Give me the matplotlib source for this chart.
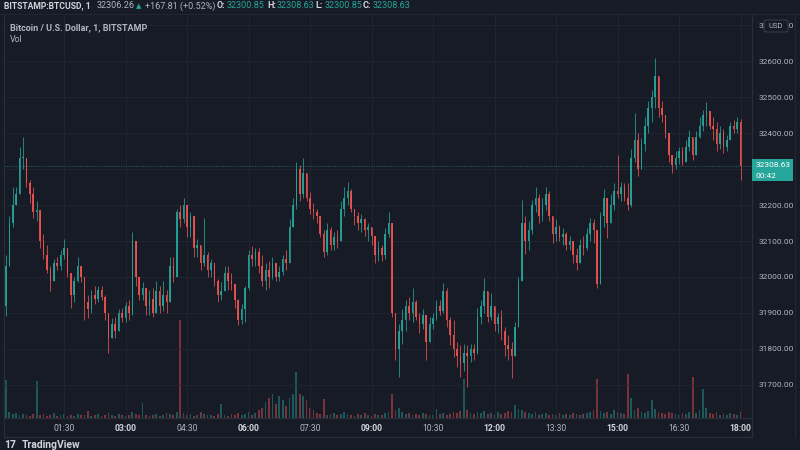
import numpy as np
import matplotlib
matplotlib.use('Agg')
import matplotlib.pyplot as plt
from matplotlib.patches import Rectangle, FancyBboxPatch
from matplotlib.lines import Line2D

plt.rcParams['font.family'] = ['Roboto', 'DejaVu Sans']

# 5-minute candles from 00:05 to 18:00 (minutes after midnight = 5 + 5*i)
first_open = 31920
closes = [32030, 32150, 32200, 32230, 32330, 32330, 32260, 32230, 32180, 32185,
          32100, 32060, 32020, 31990, 32040, 32030, 32060, 32080, 32010, 31950,
          31990, 32030, 32000, 31930, 31910, 31950, 31940, 31965, 31945, 31900,
          31830, 31870, 31850, 31900, 31885, 31920, 31900, 32100, 32000, 31950,
          31970, 31920, 31940, 31900, 31960, 31920, 31950, 31930, 32030, 32000,
          32180, 32160, 32200, 32140, 32170, 32080, 32090, 32040, 32060, 32020,
          32040, 31990, 31950, 31960, 32010, 31990, 31980, 31935, 31880, 31910,
          31970, 32060, 32050, 32070, 32030, 31990, 32020, 32000, 32040, 32000,
          32015, 32050, 32040, 32140, 32200, 32300, 32230, 32290, 32220, 32190,
          32180, 32170, 32120, 32070, 32130, 32090, 32110, 32100, 32190, 32220,
          32240, 32190, 32170, 32150, 32160, 32130, 32140, 32115, 32060, 32080,
          32060, 32120, 32150, 31900, 31800, 31850, 31880, 31920, 31900, 31930,
          31890, 31870, 31895, 31820, 31870, 31885, 31920, 31905, 31960, 31880,
          31840, 31800, 31780, 31760, 31790, 31780, 31800, 31790, 31890, 31920,
          31960, 31890, 31920, 31870, 31890, 31850, 31810, 31800, 31780, 31860,
          31990, 32150, 32100, 32130, 32200, 32220, 32170, 32200, 32230, 32170,
          32120, 32140, 32110, 32120, 32090, 32100, 32060, 32040, 32090, 32080,
          32120, 32150, 32130, 31980, 32170, 32220, 32150, 32200, 32240, 32230,
          32250, 32220, 32200, 32330, 32380, 32300, 32370, 32420, 32470, 32500,
          32560, 32470, 32450, 32400, 32340, 32310, 32330, 32350, 32320, 32360,
          32390, 32340, 32390, 32420, 32450, 32460, 32420, 32410, 32370, 32400,
          32360, 32380, 32420, 32410, 32430, 32308.63]
highs = [32060, 32170, 32250, 32250, 32360, 32390, 32320, 32270, 32250, 32210,
         32170, 32120, 32090, 32030, 32050, 32055, 32075, 32105, 32080, 32010,
         32000, 32055, 32030, 32000, 31950, 31965, 31975, 31975, 31975, 31950,
         31900, 31885, 31890, 31910, 31915, 31930, 31935, 32125, 32100, 31990,
         31985, 31970, 31965, 31970, 31990, 31975, 31990, 31965, 32055, 32055,
         32190, 32200, 32220, 32200, 32180, 32170, 32105, 32090, 32165, 32070,
         32050, 32040, 31995, 31985, 32030, 32030, 32010, 31980, 31940, 31925,
         31975, 32075, 32085, 32080, 32080, 32060, 32040, 32045, 32055, 32040,
         32030, 32060, 32075, 32160, 32220, 32320, 32310, 32330, 32290, 32235,
         32205, 32190, 32165, 32130, 32150, 32140, 32125, 32130, 32210, 32250,
         32265, 32245, 32190, 32180, 32175, 32165, 32150, 32135, 32110, 32100,
         32090, 32135, 32180, 32150, 31880, 31870, 31910, 31935, 31945, 31970,
         31935, 31900, 31910, 31880, 31890, 31900, 31935, 31935, 31983, 31970,
         31890, 31880, 31820, 31810, 31815, 31810, 31815, 31815, 31915, 31935,
         31997, 31960, 31955, 31920, 31900, 31908, 31860, 31840, 31820, 31875,
         32000, 32214, 32170, 32155, 32215, 32250, 32230, 32220, 32250, 32240,
         32170, 32160, 32145, 32135, 32125, 32115, 32100, 32080, 32105, 32115,
         32135, 32165, 32160, 32120, 32180, 32245, 32220, 32230, 32260, 32340,
         32265, 32260, 32260, 32355, 32455, 32400, 32385, 32445, 32490, 32520,
         32608, 32550, 32490, 32445, 32400, 32340, 32350, 32360, 32360, 32380,
         32408, 32390, 32405, 32445, 32465, 32486, 32460, 32445, 32430, 32420,
         32410, 32395, 32430, 32436, 32445, 32440]
lows = [31892, 32100, 32140, 32200, 32250, 32300, 32250, 32205, 32165, 32155,
        32080, 32050, 32010, 31960, 31990, 32020, 32020, 32050, 32000, 31915,
        31930, 31985, 31985, 31880, 31885, 31900, 31925, 31930, 31935, 31880,
        31790, 31830, 31830, 31850, 31875, 31875, 31880, 31895, 31975, 31935,
        31935, 31895, 31895, 31890, 31900, 31900, 31905, 31900, 31930, 31985,
        32000, 32140, 32150, 32110, 32110, 32055, 32055, 32020, 32030, 32000,
        32000, 31975, 31930, 31935, 31960, 31965, 31965, 31915, 31867, 31870,
        31875, 31965, 32030, 32030, 32010, 31975, 31965, 31970, 31995, 31990,
        31990, 32005, 32020, 32040, 32140, 32190, 32210, 32220, 32210, 32175,
        32160, 32150, 32110, 32055, 32060, 32075, 32075, 32080, 32100, 32170,
        32200, 32180, 32145, 32130, 32125, 32115, 32100, 32090, 32040, 32045,
        32045, 32050, 32110, 31890, 31770, 31722, 31815, 31850, 31880, 31875,
        31880, 31845, 31855, 31770, 31830, 31855, 31880, 31895, 31900, 31860,
        31810, 31778, 31750, 31722, 31740, 31695, 31765, 31770, 31785, 31870,
        31900, 31875, 31880, 31850, 31845, 31825, 31780, 31770, 31720, 31780,
        31860, 31990, 32065, 32075, 32120, 32180, 32150, 32155, 32185, 32155,
        32095, 32100, 32100, 32090, 32075, 32075, 32040, 32020, 32040, 32060,
        32075, 32100, 32095, 31970, 31990, 32140, 32108, 32150, 32185, 32220,
        32210, 32210, 32185, 32195, 32320, 32280, 32300, 32350, 32400, 32430,
        32470, 32445, 32430, 32385, 32320, 32288, 32300, 32315, 32310, 32320,
        32350, 32325, 32340, 32385, 32405, 32420, 32410, 32380, 32350, 32355,
        32345, 32350, 32385, 32400, 32400, 32270]
volumes = [38, 6, 4, 5, 3, 4, 3, 2, 4, 37,
           3, 4, 2, 3, 5, 2, 3, 4, 2, 3,
           2, 4, 3, 3, 7, 2, 3, 4, 2, 3,
           5, 3, 2, 4, 3, 2, 3, 6, 4, 3,
           15, 3, 2, 3, 4, 2, 3, 5, 4, 3,
           6, 98, 5, 3, 4, 2, 3, 6, 4, 3,
           3, 2, 4, 14, 3, 2, 4, 3, 5, 3,
           4, 6, 3, 5, 8, 10, 16, 20, 24, 14,
           22, 18, 12, 20, 24, 46, 24, 22, 18, 10,
           8, 5, 4, 19, 3, 4, 5, 3, 4, 6,
           4, 3, 2, 4, 3, 5, 3, 2, 4, 3,
           3, 5, 6, 24, 8, 10, 6, 4, 5, 3,
           4, 3, 5, 4, 3, 3, 9, 4, 5, 3,
           4, 6, 5, 7, 39, 8, 5, 4, 6, 5,
           7, 4, 5, 3, 6, 4, 5, 7, 6, 13,
           9, 8, 6, 5, 4, 6, 3, 4, 5, 3,
           4, 3, 5, 3, 4, 3, 5, 4, 3, 4,
           5, 6, 8, 39, 7, 5, 6, 4, 8, 6,
           5, 4, 44, 20, 8, 10, 6, 5, 7, 18,
           9, 6, 5, 4, 6, 5, 4, 3, 5, 4,
           6, 41, 5, 8, 29, 10, 5, 4, 6, 3,
           4, 3, 5, 4, 3, 6]

price_ticks = [31700, 31800, 31900, 32000, 32100, 32200, 32300, 32400, 32500, 32600, 32700]
time_ticks = [90, 180, 270, 360, 450, 540, 630, 720, 810, 900, 990, 1080]
time_labels = ['01:30', '03:00', '04:30', '06:00', '07:30', '09:00',
               '10:30', '12:00', '13:30', '15:00', '16:30', '18:00']

BG = '#171b26'
GRID = '#222634'
TEXT = '#b2b5be'
UP = '#26a69a'
DOWN = '#ef5350'

W, H = 800, 450


def fx(x):
    return x / W


def fy(y):
    return 1 - y / H


fig = plt.figure(figsize=(8, 4.5), dpi=100, facecolor=BG)
rect = [fx(4), fy(418), fx(752) - fx(4), fy(14) - fy(418)]
xlim = (2.2, 1096.8)

# volume pane underneath
vax = fig.add_axes(rect, zorder=0)
vax.set_facecolor(BG)
vax.set_xlim(*xlim)
vax.set_ylim(0, 404)
vax.axis('off')

ax = fig.add_axes(rect, zorder=1)
ax.patch.set_visible(False)
ax.set_xlim(*xlim)
ax.set_ylim(31608, 32731)

closes = np.array(closes, dtype=float)
opens = np.concatenate([[first_open], closes[:-1]])
highs = np.maximum(np.array(highs, dtype=float), np.maximum(opens, closes))
lows = np.minimum(np.array(lows, dtype=float), np.minimum(opens, closes))
times = 5 + 5 * np.arange(len(closes))
colors = [UP if c >= o else DOWN for o, c in zip(opens, closes)]

vax.bar(times, volumes, width=2.6, color=colors, alpha=0.45, linewidth=0)

ax.vlines(times, lows, highs, colors=colors, linewidth=0.6, alpha=0.9)
body_h = np.maximum(np.abs(closes - opens), 2.5)
ax.bar(times, body_h, bottom=np.minimum(opens, closes), width=2.3,
       color=colors, linewidth=0, alpha=0.9)

# last price line
last = closes[-1]
ax.axhline(last, color=UP, lw=0.7, ls=(0, (1, 1.5)), alpha=0.55)

# grid and axes
ax.set_yticks(price_ticks)
ax.set_yticklabels(['%.2f' % p for p in price_ticks])
ax.set_xticks(time_ticks)
ax.set_xticklabels(time_labels)
ax.grid(True, color=GRID, linewidth=0.6)
ax.set_axisbelow(True)
ax.yaxis.tick_right()
ax.tick_params(axis='y', length=0, pad=4.5, labelsize=6, labelcolor=TEXT)
ax.tick_params(axis='x', length=0, pad=4, labelsize=6.2, labelcolor=TEXT)
for lbl in ax.get_xticklabels():
    if lbl.get_text().endswith(':00'):
        lbl.set_fontweight('bold')
        lbl.set_color('#d1d4dc')
ax.spines['top'].set_visible(False)
for s in ['left', 'right', 'bottom']:
    ax.spines[s].set_color('#2a2e39')
    ax.spines[s].set_linewidth(0.8)

# borders of the time scale
fig.add_artist(Line2D([fx(4), fx(752)], [fy(437), fy(437)], color='#2a2e39', lw=0.8))
fig.add_artist(Line2D([fx(4), fx(4)], [fy(418), fy(437)], color='#2a2e39', lw=0.8))
fig.add_artist(Line2D([fx(752), fx(752)], [fy(418), fy(437)], color='#2a2e39', lw=0.8))
fig.add_artist(Line2D([fx(795), fx(795)], [fy(14), fy(437)], color='#232734', lw=0.8))

# last price label
fig.add_artist(Rectangle((fx(752), fy(181)), fx(41), 22 / H, facecolor=UP,
                         edgecolor='none', zorder=5))
fig.text(fx(756), fy(165), '%.2f' % last, color='white', fontsize=6, va='center', zorder=6)
fig.text(fx(756), fy(176), '00:42', color='white', fontsize=6, va='center', zorder=6)

# currency box over the top price label
fig.add_artist(FancyBboxPatch((fx(764), fy(32)), fx(24), 12 / H,
                              boxstyle='round,pad=0,rounding_size=0.004',
                              facecolor=BG, edgecolor='#363a45', lw=0.8, zorder=5))
fig.text(fx(776), fy(26), 'USD', color=TEXT, fontsize=5.5, ha='center', va='center', zorder=6)

# header line
hy = fy(6)
fig.text(fx(4), hy, 'BITSTAMP:BTCUSD, 1', color='#d1d4dc', fontsize=6.2,
         fontweight='bold', va='center')
fig.text(fx(97), hy, '32306.26', color=TEXT, fontsize=6.5, va='center')
fig.text(fx(136), hy, '\u25b2', color=UP, fontsize=5, va='center', family='DejaVu Sans')
fig.text(fx(145), hy, '+167.81 (+0.52%)', color=TEXT, fontsize=6.5, va='center')
for lab, x, val in [('O:', 217, '32300.85'), ('H:', 267, '32308.63'),
                    ('L:', 315, '32300.85'), ('C:', 363, '32308.63')]:
    fig.text(fx(x), hy, lab, color='#d1d4dc', fontsize=6.5, fontweight='bold', va='center')
    fig.text(fx(x + 10), hy, val, color=UP, fontsize=6.5, va='center')

fig.add_artist(Line2D([0, 1], [fy(14), fy(14)], color='#222634', lw=0.8))

# legend
fig.text(fx(10), fy(28), 'Bitcoin / U.S. Dollar, 1, BITSTAMP', color=TEXT,
         fontsize=6.5, fontweight='bold', va='center')
fig.text(fx(10), fy(40), 'Vol', color=TEXT, fontsize=6.3, va='center')

# watermark at the bottom edge
fig.text(fx(4), fy(445), '17', color='#d1d4dc', fontsize=7.5, fontweight='bold', va='center')
fig.text(fx(22), fy(445), 'TradingView', color='#d1d4dc', fontsize=7.5,
         fontweight='bold', va='center')

fig.savefig('out.png', dpi=100, facecolor=BG)
